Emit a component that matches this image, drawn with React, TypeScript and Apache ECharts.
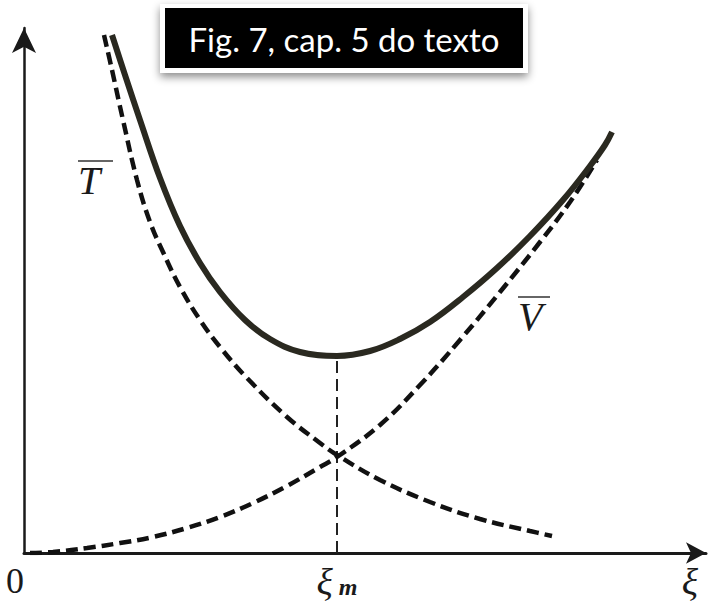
import React, { useEffect, useRef } from "react";
import * as echarts from "echarts";

// Values (x = ξ in arbitrary units, y = energy in arbitrary units)
const totalX = [88, 101, 116, 136, 156, 176, 196, 221, 246, 276, 313, 346, 376, 406, 439, 473, 506, 539, 566, 581, 588];
const totalY = [518, 478, 433, 375, 327, 290, 261, 233, 214, 201, 197, 202, 214, 231, 256, 285, 317, 353, 387, 408, 421];

const kineticX = [80, 88, 99, 113, 126, 139, 156, 176, 196, 223, 263, 296, 313, 356, 406, 456, 506, 528];
const kineticY = [518, 483, 433, 373, 331, 301, 266, 233, 206, 175, 136, 110, 98, 73, 51, 34, 22, 17];

const potentialX = [6, 29, 63, 96, 129, 163, 196, 229, 263, 296, 313, 356, 396, 436, 476, 516, 546, 573];
const potentialY = [0, 1, 5, 10, 16, 25, 36, 50, 67, 86, 96, 128, 168, 213, 261, 311, 351, 393];

const xiMin = 313;
const xiMinEnergy = 197;

const tickValues = [0, 313, 666];
const tickLabels = ["{zero|0}", "{xi|ξ}{m|m}", "{xi2|ξ}"];

const titleText = "Fig. 7, cap. 5 do texto";

const zip = (xs: number[], ys: number[]) => xs.map((x, i) => [x, ys[i]]);

export default function App() {
  const ref = useRef<HTMLDivElement>(null);

  useEffect(() => {
    if (!ref.current) return;
    const chart = echarts.init(ref.current, undefined, { renderer: "svg" });
    const ink = "#1a1a1a";
    chart.setOption({
      animation: false,
      backgroundColor: "#ffffff",
      grid: { left: 24, right: 12, top: 28, bottom: 53 },
      xAxis: {
        type: "value",
        min: 0,
        max: 682,
        splitLine: { show: false },
        axisTick: { show: false },
        axisLine: {
          onZero: false,
          lineStyle: { color: ink, width: 3 },
          symbol: ["none", "arrow"],
          symbolSize: [16, 20],
        },
        axisLabel: {
          customValues: tickValues,
          margin: 10,
          formatter: (v: number) => tickLabels[tickValues.indexOf(v)] ?? "",
          rich: {
            zero: { fontFamily: "Liberation Serif", fontSize: 36, color: ink, padding: [0, 18, 0, 0] },
            xi: { fontFamily: "Liberation Serif", fontStyle: "italic", fontSize: 38, color: ink },
            m: { fontFamily: "Liberation Serif", fontStyle: "italic", fontWeight: "bold", fontSize: 24, color: ink, padding: [10, 0, 0, 6] },
            xi2: { fontFamily: "Liberation Serif", fontStyle: "italic", fontSize: 38, color: ink },
          },
        },
      },
      yAxis: {
        type: "value",
        min: 0,
        max: 525,
        splitLine: { show: false },
        axisTick: { show: false },
        axisLabel: { show: false },
        axisLine: {
          show: true,
          lineStyle: { color: ink, width: 2.5 },
          symbol: ["none", "arrow"],
          symbolSize: [18, 25],
        },
      },
      series: [
        {
          name: "V",
          type: "line",
          data: zip(potentialX, potentialY),
          smooth: 0.4,
          showSymbol: false,
          lineStyle: { color: "#111", width: 4.5, type: [12, 6] },
          z: 2,
        },
        {
          name: "T",
          type: "line",
          data: zip(kineticX, kineticY),
          smooth: 0.4,
          showSymbol: false,
          lineStyle: { color: "#111", width: 4.5, type: [12, 6] },
          z: 2,
        },
        {
          name: "ximin",
          type: "line",
          data: [
            [xiMin, 0],
            [xiMin, xiMinEnergy],
          ],
          showSymbol: false,
          lineStyle: { color: "#222", width: 2, type: [12, 6] },
          z: 1,
        },
        {
          name: "E",
          type: "line",
          data: zip(totalX, totalY),
          smooth: 0.4,
          showSymbol: false,
          lineStyle: { color: "#2a2920", width: 6 },
          z: 3,
        },
      ],
      graphic: [
        { type: "text", left: 78, top: 160, style: { text: "T", font: "italic 40px 'Liberation Serif'", fill: ink } },
        { type: "line", shape: { x1: 78, y1: 161, x2: 113, y2: 161 }, style: { stroke: "#333", lineWidth: 1.5 } },
        { type: "text", left: 518, top: 296, style: { text: "V", font: "italic 40px 'Liberation Serif'", fill: ink } },
        { type: "line", shape: { x1: 518, y1: 297, x2: 550, y2: 297 }, style: { stroke: "#333", lineWidth: 1.5 } },
        {
          type: "rect",
          shape: { x: 160, y: 4, width: 368, height: 69 },
          style: { fill: "#ffffff", shadowBlur: 8, shadowColor: "rgba(0,0,0,0.45)", shadowOffsetY: 4 },
          z: 10,
        },
        { type: "rect", shape: { x: 165, y: 8, width: 358, height: 60 }, style: { fill: "#000" }, z: 11 },
        {
          type: "text",
          x: 344,
          y: 39,
          style: {
            text: titleText,
            font: "33px Lato",
            fill: "#fff",
            align: "center",
            verticalAlign: "middle",
          },
          z: 12,
        },
      ],
    });
    return () => chart.dispose();
  }, []);

  return (
    <div
      ref={ref}
      style={{ position: "absolute", left: 0, top: 0, width: 718, height: 606 }}
    />
  );
}
